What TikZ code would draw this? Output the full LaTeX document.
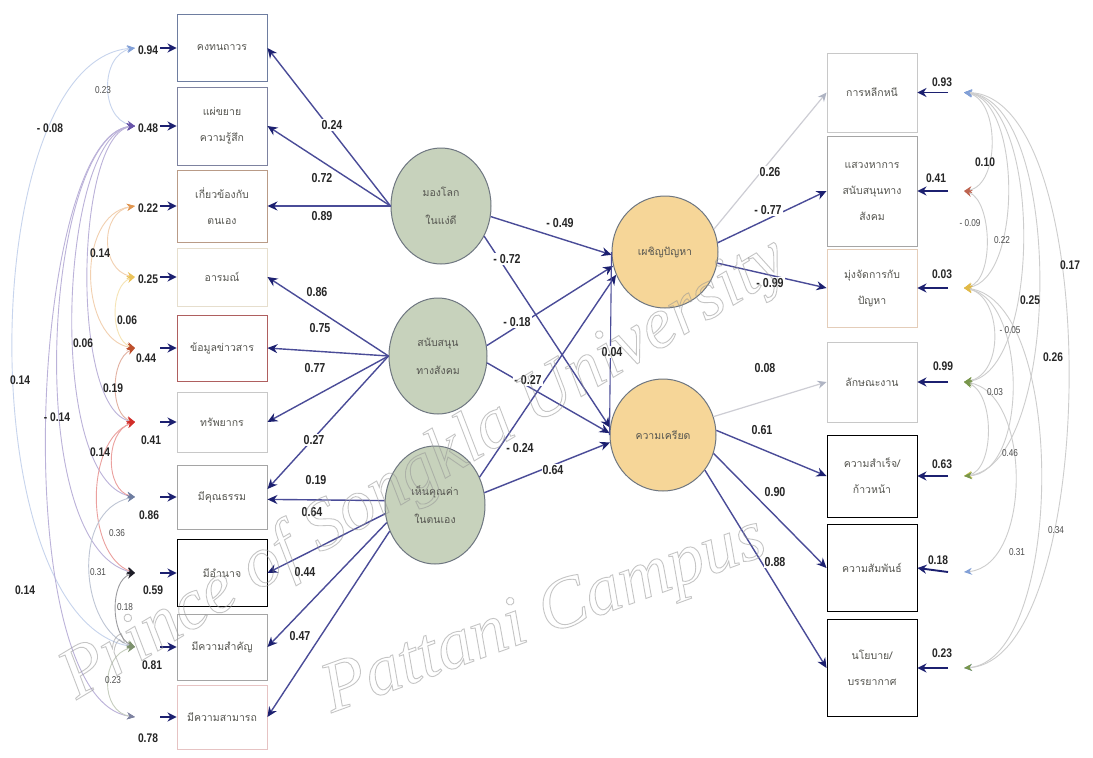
\documentclass[tikz,border=0pt]{standalone}
\usepackage{fontspec}
\usetikzlibrary{shapes.geometric,arrows.meta}
\setmainfont{Liberation Serif}
\newfontfamily\thai[Script=Thai]{Loma}
\newfontfamily\numfont[FakeStretch=0.82]{Liberation Sans}
% outlined (stroked) text for the repository stamp
\newcommand{\outlinetext}[1]{\special{pdf:literal direct 1 Tr 0.9 w}#1\special{pdf:literal direct 0 Tr}}

\definecolor{navy}{RGB}{28,32,112}
\definecolor{lnc}{RGB}{74,76,152}
\definecolor{paleln}{RGB}{205,205,212}
\definecolor{palehd}{RGB}{175,180,195}
\definecolor{grn}{RGB}{199,210,188}
\definecolor{org}{RGB}{246,214,152}
\definecolor{rim}{RGB}{110,118,128}
\definecolor{txt}{RGB}{85,85,80}
% box outline colours
\definecolor{bBrown}{RGB}{185,155,135}
\definecolor{bCream}{RGB}{230,222,205}
\definecolor{bRed}{RGB}{175,95,95}
\definecolor{bLight}{RGB}{200,200,200}
\definecolor{bMid}{RGB}{165,165,165}
\definecolor{bPink}{RGB}{230,195,195}
\definecolor{bPeach}{RGB}{228,205,185}
% error tip colours
\definecolor{cA}{RGB}{130,160,215}
\definecolor{cB}{RGB}{105,85,170}
\definecolor{cC}{RGB}{225,150,80}
\definecolor{cD}{RGB}{235,195,90}
\definecolor{cE}{RGB}{190,80,45}
\definecolor{cF}{RGB}{210,45,40}
\definecolor{cG}{RGB}{110,125,160}
\definecolor{cH}{RGB}{30,30,40}
\definecolor{cI}{RGB}{125,145,110}
\definecolor{cJ}{RGB}{125,130,160}
\definecolor{cK}{RGB}{190,100,80}
\definecolor{cL}{RGB}{225,185,70}
\definecolor{cM}{RGB}{120,150,75}
\definecolor{cN}{RGB}{205,200,90}
\definecolor{arcR}{RGB}{205,205,205}
\definecolor{stamp}{RGB}{150,150,150}

\begin{document}
\begin{tikzpicture}[x=1pt,y=-1pt,
  ind/.style={draw=#1, fill=white, line width=0.9pt, minimum width=90pt,
    inner sep=2pt, align=center, text=txt, font=\thai\fontsize{10.5}{26}\selectfont},
  lat/.style={ellipse, draw=rim, line width=1pt, fill=#1, inner sep=0pt,
    align=center, text=txt, font=\thai\fontsize{10.5}{28}\selectfont},
  load/.style={draw=lnc, line width=1.4pt,
    arrows={-Stealth[length=10pt,width=9pt,color=navy]}},
  pale/.style={draw=paleln, line width=1.2pt,
    arrows={-Stealth[length=9pt,width=8pt,color=palehd]}},
  corr/.style={draw=lnc, line width=1.1pt},
  err/.style={draw=navy, line width=1.9pt, arrows={-Stealth[length=9pt,width=9pt]}},
  num/.style={font=\numfont\bfseries\fontsize{13}{13}\selectfont, fill=white,
    inner sep=1pt, text=black!85},
  enum/.style={font=\numfont\bfseries\fontsize{12.5}{12.5}\selectfont,
    inner sep=0.5pt, text=black!85},
  sm/.style={font=\numfont\fontsize{10}{10}\selectfont, inner sep=0.5pt, text=black!70},
  covL/.style 2 args={draw=#1!45, line width=0.9pt,
    arrows={Stealth[length=8pt,width=7pt,color=#1]-Stealth[length=8pt,width=7pt,color=#2]}},
  covR/.style 2 args={draw=arcR, line width=0.9pt,
    arrows={Stealth[length=8pt,width=7pt,color=#1]-Stealth[length=8pt,width=7pt,color=#2]}},
  stamptext/.style={text=stamp, opacity=0.55, font=\itshape\fontsize{72}{72}\selectfont}
]
\useasboundingbox (0,0) rectangle (1093,758);
\fill[white] (0,0) rectangle (1093,758);

% ---------- observed indicators, left column ----------
\node[ind=cG, minimum height=67pt] (L1) at (222,48) {คงทนถาวร};
\node[ind=cJ, minimum height=78pt] (L2) at (222,126) {แผ่ขยาย\\ความรู้สึก};
\node[ind=bBrown, minimum height=72pt] (L3) at (222,206) {เกี่ยวข้องกับ\\ตนเอง};
\node[ind=bCream, minimum height=58pt] (L4) at (222,277) {อารมณ์};
\node[ind=bRed, minimum height=66pt] (L5) at (222,348) {ข้อมูลข่าวสาร};
\node[ind=bLight, minimum height=60pt] (L6) at (222,422) {ทรัพยากร};
\node[ind=bMid, minimum height=64pt] (L7) at (222,497) {มีคุณธรรม};
\node[ind=black, minimum height=67pt] (L8) at (222,573) {มีอำนาจ};
\node[ind=bMid, minimum height=66pt] (L9) at (222,647) {มีความสำคัญ};
\node[ind=bPink, minimum height=64pt] (L10) at (222,717) {มีความสามารถ};

% ---------- observed indicators, right column ----------
\node[ind=bLight, minimum height=79pt] (R1) at (872,92.5) {การหลีกหนี};
\node[ind=bMid, minimum height=110pt] (R2) at (872,191) {แสวงหาการ\\สนับสนุนทาง\\สังคม};
\node[ind=bPeach, minimum height=78pt] (R3) at (872,288) {มุ่งจัดการกับ\\ปัญหา};
\node[ind=bLight, minimum height=80pt] (R4) at (872,382) {ลักษณะงาน};
\node[ind=black, minimum height=82pt] (R5) at (872,476) {ความสำเร็จ/\\ก้าวหน้า};
\node[ind=black, minimum height=87pt] (R6) at (872,568) {ความสัมพันธ์};
\node[ind=black, minimum height=97pt] (R7) at (872,668) {นโยบาย/\\บรรยากาศ};

% ---------- latent variables ----------
\node[lat=grn, minimum width=100pt, minimum height=116pt] (C1) at (441,206) {มองโลก\\ในแง่ดี};
\node[lat=grn, minimum width=98pt, minimum height=116pt] (C2) at (438,356) {สนับสนุน\\ทางสังคม};
\node[lat=grn, minimum width=100pt, minimum height=118pt] (C3) at (435,505) {เห็นคุณค่า\\ในตนเอง};
\node[lat=org, minimum width=106pt, minimum height=112pt] (C4) at (665,252) {เผชิญปัญหา};
\node[lat=org, minimum width=106pt, minimum height=112pt] (C5) at (663,435) {ความเครียด};

% ---------- loadings of the exogenous factors ----------
\draw[load] (C1.west) -- (L1.east);
\draw[load] (C1.west) -- (L2.east);
\draw[load] (C1.west) -- (L3.east);
\draw[load] (C2.west) -- (L4.east);
\draw[load] (C2.west) -- (L5.east);
\draw[load] (C2.west) -- (L6.east);
\draw[load] (C2.west) -- (L7.10);
\draw[load] (C3.175) -- (L7.-3);
\draw[load] (C3.190) -- (L8.east);
\draw[load] (C3.200) -- (L9.east);
\draw[load] (C3.210) -- (L10.east);

\node[num] (n01) at (332,125) {0.24};
\node[num] (n02) at (322,178) {0.72};
\node[num] (n03) at (322,216) {0.89};
\node[num] (n04) at (317,292) {0.86};
\node[num] (n05) at (320,328) {0.75};
\node[num] (n06) at (315,368) {0.77};
\node[num] (n07) at (314,440) {0.27};
\node[num] (n08) at (316,480) {0.19};
\node[num] (n09) at (312,512) {0.64};
\node[num] (n10) at (305,572) {0.44};
\node[num] (n11) at (300,636) {0.47};

% ---------- structural paths ----------
\draw[load] (C1.-12) -- (C4.183);
\draw[load] (C1.-35) -- (C5.172);
\draw[load] (C2.12) -- (C4.195);
\draw[load] (C2.-8) -- (C5.178);
\draw[load] (C3.32) -- (C4.205);
\draw[load] (C3.14) -- (C5.188);
\draw[corr] (C4.west) -- (C5.west);

\node[num] (n12) at (560,223) {- 0.49};
\node[num] (n13) at (507,259) {- 0.72};
\node[num] (n14) at (517,322) {- 0.18};
\node[num] (n15) at (528,380) {- 0.27};
\node[num] (n16) at (520,448) {- 0.24};
\node[num] (n17) at (553,470) {0.64};
\node[num] (n18) at (612,352) {0.04};

% ---------- loadings of the endogenous factors ----------
\draw[pale] (C4.25) -- (R1.west);
\draw[load] (C4.10) -- (R2.west);
\draw[load] (C4.-12) -- (R3.west);
\draw[pale] (C5.20) -- (R4.west);
\draw[load] (C5.5) -- (R5.west);
\draw[load] (C5.-20) -- (R6.west);
\draw[load] (C5.-40) -- (R7.west);

\node[num] (n19) at (770,172) {0.26};
\node[num] (n20) at (768,210) {- 0.77};
\node[num] (n21) at (770,283) {- 0.99};
\node[num] (n22) at (765,368) {0.08};
\node[num] (n23) at (762,430) {0.61};
\node[num] (n24) at (775,492) {0.90};
\node[num] (n25) at (775,562) {0.88};

% ---------- error terms, left ----------
\foreach \i/\y in {1/48,2/126,3/206,4/277,5/348,6/422,7/497,8/573,9/647,10/717}{
  \coordinate (eL\i) at (160,\y);
  \coordinate (tL\i) at (135,\y);
  \draw[err] (eL\i) -- (L\i.west);
}
\node[enum] (m01) at (148,50) {0.94};
\node[enum] (m02) at (148,128) {0.48};
\node[enum] (m03) at (148,208) {0.22};
\node[enum] (m04) at (148,279) {0.25};
\node[enum] (m05) at (146,358) {0.44};
\node[enum] (m06) at (151,440) {0.41};
\node[enum] (m07) at (149,515) {0.86};
\node[enum] (m08) at (153,590) {0.59};
\node[enum] (m09) at (152,665) {0.81};
\node[enum] (m10) at (148,738) {0.78};

% error covariances, left
\draw[covL={cA}{cB}] (tL1) .. controls (100,55) and (100,118) .. (tL2);
\draw[covL={cA}{cI}] (tL1) .. controls (-25,60) and (-30,620) .. (tL9);
\draw[covL={cB}{cJ}] (tL2) .. controls (30,135) and (5,700) .. (tL10);
\draw[covL={cB}{cH}] (tL2) .. controls (45,135) and (20,545) .. (tL8);
\draw[covL={cB}{cG}] (tL2) .. controls (60,135) and (45,480) .. (tL7);
\draw[covL={cB}{cF}] (tL2) .. controls (75,135) and (70,410) .. (tL6);
\draw[covL={cC}{cD}] (tL3) .. controls (100,212) and (100,270) .. (tL4);
\draw[covL={cC}{cE}] (tL3) .. controls (75,215) and (80,340) .. (tL5);
\draw[covL={cD}{cE}] (tL4) .. controls (110,285) and (110,340) .. (tL5);
\draw[covL={cE}{cF}] (tL5) .. controls (110,360) and (110,415) .. (tL6);
\draw[covL={cF}{cG}] (tL6) .. controls (105,432) and (105,490) .. (tL7);
\draw[covL={cF}{cH}] (tL6) .. controls (85,440) and (85,555) .. (tL8);
\draw[covL={cG}{cI}] (tL7) .. controls (70,510) and (80,630) .. (tL9);
\draw[covL={cH}{cI}] (tL8) .. controls (110,580) and (110,635) .. (tL9);
\draw[covL={cI}{cJ}] (tL9) .. controls (100,655) and (100,712) .. (tL10);

\node[sm] (k01) at (103,90) {0.23};
\node[enum] (k02) at (50,128) {- 0.08};
\node[enum] (k03) at (100,253) {0.14};
\node[enum] (k04) at (127,320) {0.06};
\node[enum] (k05) at (83,343) {0.06};
\node[enum] (k06) at (20,380) {0.14};
\node[enum] (k07) at (113,388) {0.19};
\node[enum] (k08) at (57,417) {- 0.14};
\node[enum] (k09) at (100,452) {0.14};
\node[sm] (k10) at (117,533) {0.36};
\node[sm] (k11) at (98,572) {0.31};
\node[enum] (k12) at (25,590) {0.14};
\node[sm] (k13) at (125,607) {0.18};
\node[sm] (k14) at (113,680) {0.23};

% ---------- error terms, right ----------
\foreach \i/\y in {1/92.5,2/191,3/288,4/382,5/476,6/572,7/668}{
  \coordinate (eR\i) at (948,\y);
  \coordinate (tR\i) at (964,\y);
  \draw[err] (eR\i) -- (R\i.east);
}
\node[enum] (m11) at (942,82) {0.93};
\node[enum] (m12) at (936,178) {0.41};
\node[enum] (m13) at (942,274) {0.03};
\node[enum] (m14) at (943,366) {0.99};
\node[enum] (m15) at (942,464) {0.63};
\node[enum] (m16) at (938,560) {0.18};
\node[enum] (m17) at (942,653) {0.23};

% error covariances, right
\draw[covR={cA}{cK}] (tR1) .. controls (1000,100) and (1000,185) .. (tR2);
\draw[covR={cK}{cL}] (tR2) .. controls (992,200) and (995,280) .. (tR3);
\draw[covR={cA}{cL}] (tR1) .. controls (1022,100) and (1022,280) .. (tR3);
\draw[covR={cA}{cM}] (tR1) .. controls (1042,100) and (1042,372) .. (tR4);
\draw[covR={cL}{cM}] (tR3) .. controls (1002,296) and (1005,374) .. (tR4);
\draw[covR={cA}{cN}] (tR1) .. controls (1065,100) and (1062,466) .. (tR5);
\draw[covR={cA}{cA}] (tR1) .. controls (1105,95) and (1100,660) .. (tR7);
\draw[covR={cM}{cN}] (tR4) .. controls (995,392) and (995,470) .. (tR5);
\draw[covR={cL}{cM}] (tR3) .. controls (1028,300) and (1028,474) .. (tR5);
\draw[covR={cM}{cA}] (tR4) .. controls (1032,392) and (1032,566) .. (tR6);
\draw[covR={cL}{cM}] (tR3) .. controls (1068,300) and (1064,660) .. (tR7);

\node[enum] (k15) at (985,162) {0.10};
\node[sm] (k16) at (970,223) {- 0.09};
\node[sm] (k17) at (1002,240) {0.22};
\node[enum] (k18) at (1070,265) {0.17};
\node[enum] (k19) at (1030,300) {0.25};
\node[sm] (k20) at (1010,330) {- 0.05};
\node[enum] (k21) at (1053,357) {0.26};
\node[sm] (k22) at (995,392) {0.03};
\node[sm] (k23) at (1010,453) {0.46};
\node[sm] (k24) at (1017,552) {0.31};
\node[sm] (k25) at (1056,530) {0.34};

% ---------- repository stamp ----------
\node[stamptext, rotate=31] (wm1) at (425,470) {\outlinetext{Prince of Songkla University}};
\node[stamptext, rotate=20] (wm2) at (545,618) {\outlinetext{Pattani Campus}};
\end{tikzpicture}
\end{document}
